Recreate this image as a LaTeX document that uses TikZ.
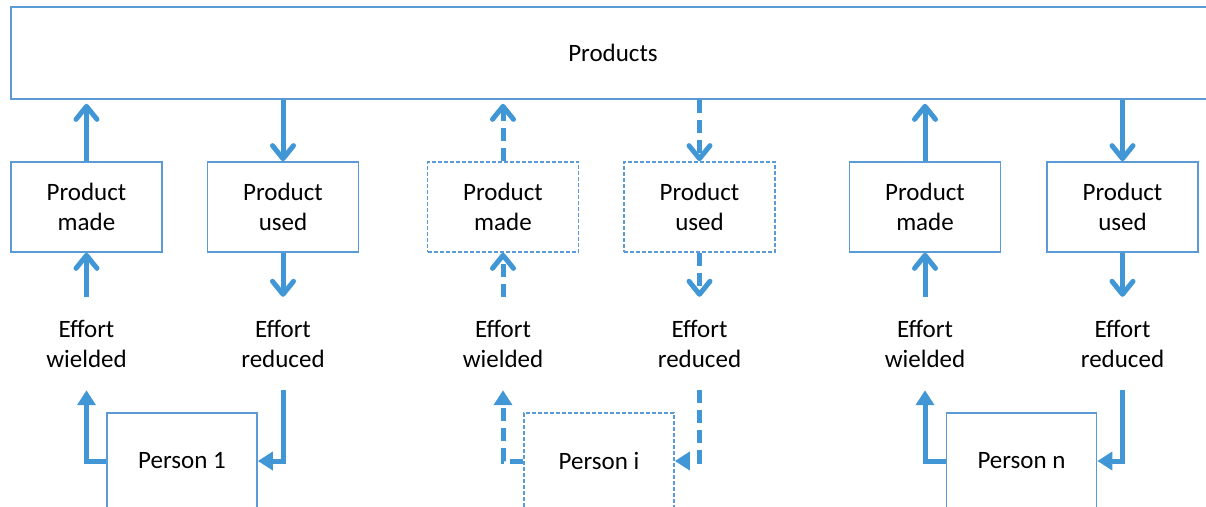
\documentclass[tikz,border=0pt]{standalone}
\usepackage{fontspec}
\setmainfont{Carlito}
\usetikzlibrary{arrows.meta}
\definecolor{arrowblue}{RGB}{65,150,214}
\definecolor{boxblue}{RGB}{91,155,213}
\begin{document}
\begin{tikzpicture}[x=1pt,y=-1pt,
  font=\fontsize{25}{30}\selectfont,
  box/.style={draw=boxblue, line width=1.7pt, minimum width=151pt, minimum height=90pt, align=center, inner sep=0pt},
  dbox/.style={box, dash pattern=on 4pt off 2pt},
  pbox/.style={box, minimum width=150pt, minimum height=96pt},
  lbl/.style={align=center, minimum height=93pt, inner sep=0pt},
  flow/.style={draw=arrowblue, line width=5pt, -{Straight Barb[length=13pt,width=21pt,round]}},
  pflow/.style={draw=arrowblue, line width=5pt, -{Triangle[length=15pt,width=18pt]}},
  dflow/.style={dash pattern=on 13pt off 7pt}
]
\useasboundingbox (0,0) rectangle (1206,506);
\clip (0,0) rectangle (1206,506);

\node[box, minimum width=1204pt, minimum height=92pt] (prod) at (613,53) {Products};

% group 1
\node[box] (m1) at (86.5,207) {Product\\made};
\node[box] (u1) at (283,207) {Product\\used};
\node[lbl] (w1) at (86.5,343.5) {Effort\\wielded};
\node[lbl] (r1) at (283,343.5) {Effort\\reduced};
\node[pbox] (p1) at (182,461) {Person 1};

% group i
\node[dbox] (m2) at (503,207) {Product\\made};
\node[dbox] (u2) at (699.5,207) {Product\\used};
\node[lbl] (w2) at (503,343.5) {Effort\\wielded};
\node[lbl] (r2) at (699.5,343.5) {Effort\\reduced};
\node[pbox, dash pattern=on 4pt off 2pt] (p2) at (599,461) {Person i};

% group n
\node[box] (m3) at (925,207) {Product\\made};
\node[box] (u3) at (1122.5,207) {Product\\used};
\node[lbl] (w3) at (925,343.5) {Effort\\wielded};
\node[lbl] (r3) at (1122.5,343.5) {Effort\\reduced};
\node[pbox] (p3) at (1021.5,461) {Person n};

% arrows group 1
\draw[flow, shorten >=4pt] (m1.north) -- (m1.north |- prod.south);
\draw[flow] (u1.north |- prod.south) -- (u1.north);
\draw[flow] (w1.north) -- (m1.south);
\draw[flow] (u1.south) -- (r1.north);
\draw[pflow] (p1.west) -| (w1.south);
\draw[pflow] (r1.south) |- (p1.east);

% arrows group i
\draw[flow, dflow, shorten >=4pt] (m2.north) -- (m2.north |- prod.south);
\draw[flow, dflow] (u2.north |- prod.south) -- (u2.north);
\draw[flow, dflow] (w2.north) -- (m2.south);
\draw[flow, dflow] (u2.south) -- (r2.north);
\draw[pflow, dflow] (p2.west) -| (w2.south);
\draw[pflow, dflow] (r2.south) |- (p2.east);

% arrows group n
\draw[flow, shorten >=4pt] (m3.north) -- (m3.north |- prod.south);
\draw[flow] (u3.north |- prod.south) -- (u3.north);
\draw[flow] (w3.north) -- (m3.south);
\draw[flow] (u3.south) -- (r3.north);
\draw[pflow] (p3.west) -| (w3.south);
\draw[pflow] (r3.south) |- (p3.east);
\end{tikzpicture}
\end{document}
